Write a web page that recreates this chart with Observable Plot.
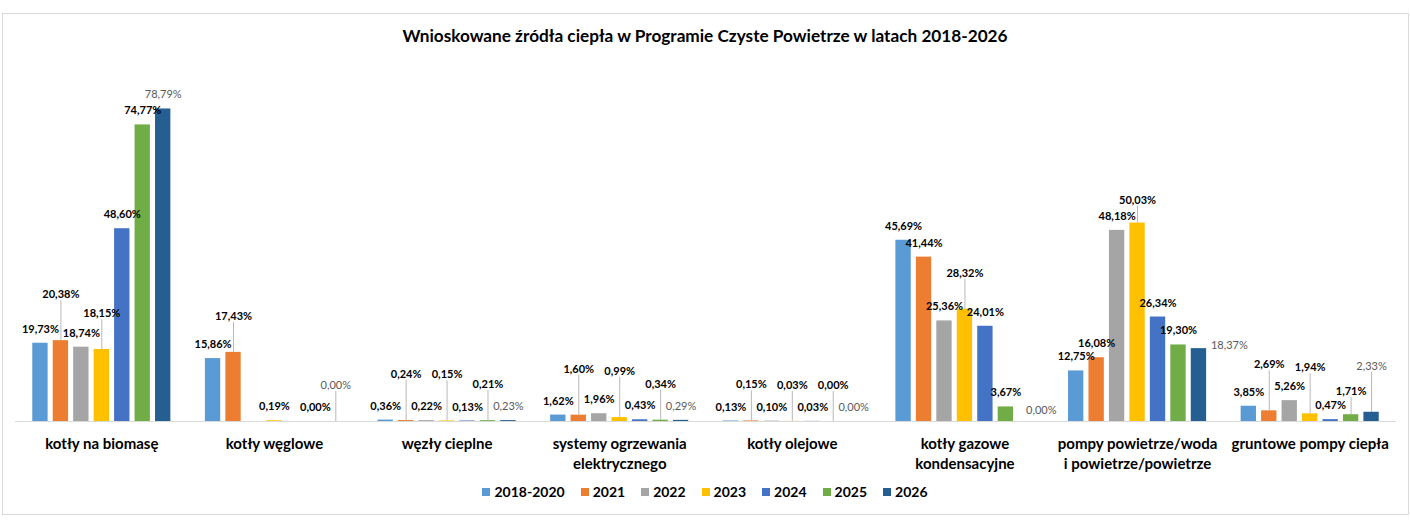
<!DOCTYPE html>
<html><head><meta charset="utf-8">
<script src="https://cdn.jsdelivr.net/npm/d3@7"></script>
<script src="https://cdn.jsdelivr.net/npm/@observablehq/plot@0.6"></script>
<style>
html,body{margin:0;padding:0;background:#fff;}
#wrap{position:relative;width:1410px;height:527px;font-family:Lato,"Open Sans",sans-serif;color:#000;overflow:hidden;}
#frame{position:absolute;left:2px;top:13px;width:1407px;height:502px;border:1px solid #d9d9d9;box-sizing:border-box;}
#title{position:absolute;left:0;top:26px;width:1410px;text-align:center;font-weight:bold;font-size:17.2px;line-height:20px;}
#chart{position:absolute;left:0;top:50px;}
#legend{position:absolute;left:0;top:483px;width:1410px;display:flex;justify-content:center;gap:16px;font-weight:bold;font-size:14px;line-height:18px;}
.item{display:flex;align-items:center;}
.sw{width:8px;height:8px;margin-right:4px;}
</style></head><body>
<div id="wrap"><div id="frame"></div><div id="title"></div><div id="chart"></div><div id="legend"></div></div>
<script>
const title = "Wnioskowane źródła ciepła w Programie Czyste Powietrze w latach 2018-2026";
const categories = ["kotły na biomasę", "kotły węglowe", "węzły cieplne", "systemy ogrzewania elektrycznego", "kotły olejowe", "kotły gazowe kondensacyjne", "pompy powietrze/woda i powietrze/powietrze", "gruntowe pompy ciepła"];
const categoryLabels = ["kotły na biomasę", "kotły węglowe", "węzły cieplne", "systemy ogrzewania\nelektrycznego", "kotły olejowe", "kotły gazowe\nkondensacyjne", "pompy powietrze/woda\ni powietrze/powietrze", "gruntowe pompy ciepła"];
const years = ["2018-2020", "2021", "2022", "2023", "2024", "2025", "2026"];
const v2018_2020 = [19.73, 15.86, 0.36, 1.62, 0.13, 45.69, 12.75, 3.85];
const v2021 = [20.38, 17.43, 0.24, 1.60, 0.15, 41.44, 16.08, 2.69];
const v2022 = [18.74, null, 0.22, 1.96, 0.10, 25.36, 48.18, 5.26];
const v2023 = [18.15, 0.19, 0.15, 0.99, 0.03, 28.32, 50.03, 1.94];
const v2024 = [48.60, null, 0.13, 0.43, 0.03, 24.01, 26.34, 0.47];
const v2025 = [74.77, 0.00, 0.21, 0.34, 0.00, 3.67, 19.30, 1.71];
const v2026 = [78.79, 0.00, 0.23, 0.29, 0.00, 0.00, 18.37, 2.33];
const colors = ["#5B9BD5", "#ED7D31", "#A5A5A5", "#FFC000", "#4472C4", "#70AD47", "#255E91"];

// data-label placement classes (category index, year)
const labelHigh = [[0, "2021"], [2, "2021"], [2, "2023"], [3, "2021"], [3, "2023"], [7, "2021"], [7, "2023"], [7, "2026"]];
const labelMid = [[0, "2023"], [1, "2021"], [1, "2026"], [2, "2025"], [3, "2025"], [4, "2021"], [4, "2023"], [4, "2025"], [5, "2023"]];
const labelLow = [[6, "2023"], [7, "2025"]];
const labelRight = [[6, "2026"]];
const labelShift = [[5, "2026"]];

const series = [v2018_2020, v2021, v2022, v2023, v2024, v2025, v2026];
const inList = (list, i, y) => list.some(([c, yy]) => c === i && yy === y);
const rows = categories.flatMap((c, i) => years.map((y, j) => ({
  category: c, year: y, value: series[j][i],
  mode: inList(labelHigh, i, y) ? "high" : inList(labelMid, i, y) ? "mid" : inList(labelLow, i, y) ? "low"
      : inList(labelRight, i, y) ? "right" : inList(labelShift, i, y) ? "shift" : "normal"
}))).filter(d => d.value != null);

const fmt = d => d.value.toFixed(2).replace(".", ",") + "%";

const W = 1410, H = 420, MT = 14, MB = 49, ML = 15, MR = 14;
const yMax = 90;
const pxPerUnit = (H - MT - MB) / yMax;
const outerPad = (W - ML - MR) / categories.length * 0.1;
const baseGap = 14;
const lifts = {normal: 0, high: 32, mid: 22, low: 9};

function labelMarks(mode) {
  const sel = rows.filter(d => d.mode === mode);
  const opts = mode === "right" ? {dx: 12, dy: -3, textAnchor: "start"}
    : mode === "shift" ? {dx: 15, dy: -11}
    : {dy: -(baseGap + lifts[mode])};
  return [
    Plot.text(sel.filter(d => d.year !== "2026"), {fx: "category", x: "year", y: "value", text: fmt, fontSize: 11, fontWeight: "bold", fill: "#000", ...opts}),
    Plot.text(sel.filter(d => d.year === "2026"), {fx: "category", x: "year", y: "value", text: fmt, fontSize: 11, fontWeight: "normal", fill: "#595959", ...opts})
  ];
}

const leaders = rows.filter(d => d.mode === "high" || d.mode === "mid" || d.mode === "low");

const chart = Plot.plot({
  width: W, height: H, marginTop: MT, marginBottom: MB, marginLeft: ML, marginRight: MR,
  fx: {domain: categories, paddingInner: 0.2, paddingOuter: 0.1, round: false, axis: null, label: null},
  x: {domain: years, paddingInner: 0.25, paddingOuter: 0, round: false, axis: null, label: null},
  y: {domain: [0, yMax], axis: null, label: null},
  color: {domain: years, range: colors},
  style: {fontFamily: "Lato, 'Open Sans', sans-serif", background: "transparent", overflow: "visible"},
  marks: [
    Plot.ruleY([0], {stroke: "#d9d9d9", strokeWidth: 1, insetLeft: -outerPad, insetRight: -outerPad}),
    Plot.barY(rows, {fx: "category", x: "year", y: "value", fill: "year"}),
    Plot.ruleX(leaders, {fx: "category", x: "year", y1: "value", y2: d => d.value + (baseGap + lifts[d.mode] - 6) / pxPerUnit, stroke: "#a6a6a6", strokeWidth: 0.8}),
    ...labelMarks("normal"), ...labelMarks("high"), ...labelMarks("mid"), ...labelMarks("low"), ...labelMarks("right"), ...labelMarks("shift"),
    Plot.text(categories, {fx: d => d, text: (d, i) => categoryLabels[i], frameAnchor: "bottom", lineAnchor: "top", dy: 13, fontSize: 15, fontWeight: "bold", lineHeight: 1.33, fill: "#000"})
  ]
});
document.getElementById("chart").appendChild(chart);
document.getElementById("title").textContent = title;
const legend = document.getElementById("legend");
years.forEach((y, i) => {
  const it = document.createElement("div"); it.className = "item";
  const sw = document.createElement("div"); sw.className = "sw"; sw.style.background = colors[i];
  const tx = document.createElement("span"); tx.textContent = y;
  it.appendChild(sw); it.appendChild(tx); legend.appendChild(it);
});
</script>
</body></html>
